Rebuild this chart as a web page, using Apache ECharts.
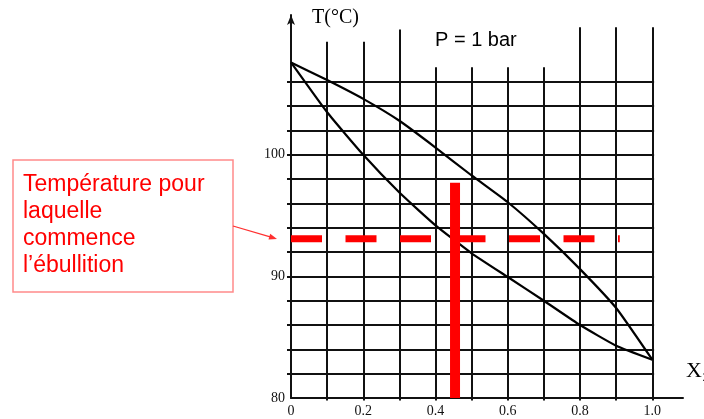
<!DOCTYPE html>
<html>
<head>
<meta charset="utf-8">
<script src="https://cdn.jsdelivr.net/npm/echarts@6/dist/echarts.min.js"></script>
<style>html,body{margin:0;padding:0;background:#fff}#c{width:704px;height:419px}</style>
</head>
<body>
<div id="c"></div>
<script>
// ---- data ----
const xFrac   = [0, 0.1, 0.2, 0.3, 0.4, 0.5, 0.6, 0.7, 0.8, 0.9, 1.0];
const vapourT = [107.6, 106.15, 104.6, 102.8, 100.6, 98.3, 96.1, 93.5, 90.6, 87.4, 83.15];
const liquidT = [107.6, 103.5, 100.0, 96.9, 94.2, 91.9, 89.95, 88.0, 86.0, 84.3, 83.15];
const xLabelVals = [0, 0.2, 0.4, 0.6, 0.8, 1.0];
const yLabelVals = [80, 90, 100];
const hGridT  = [82, 84, 86, 88, 90, 92, 94, 96, 98, 100, 102, 104, 106];
const vGridX  = [0.1, 0.2, 0.3, 0.4, 0.5, 0.6, 0.7, 0.8, 0.9, 1.0];
const vGridTop = [109.3, 109.3, 110.3, 107.2, 107.2, 107.2, 107.2, 110.5, 110.5, 110.5];
const boilT = 93.1;      // température de début d'ébullition
const dashEndX = 0.91;
const barX = 0.454;      // composition
const barTopT = 97.7;

const chart = echarts.init(document.getElementById('c'), null, {renderer: 'canvas'});

const gridLines = hGridT.map(t => ({coords: [[0, t], [1.005, t]]}))
  .concat(vGridX.map((x, i) => ({coords: [[x, 79.8], [x, vGridTop[i]]]})));

const option = {
  animation: false,
  backgroundColor: '#fff',
  grid: {left: 291, right: 21, top: 15, bottom: 21},
  xAxis: {
    type: 'value', min: 0, max: 1.085,
    axisLine: {lineStyle: {color: '#111', width: 2}},
    axisTick: {show: false},
    splitLine: {show: false},
    axisLabel: {
      customValues: xLabelVals,
      formatter: v => (v === 0 ? '0' : v.toFixed(1)),
      fontFamily: 'Liberation Serif', fontSize: 14, color: '#111', margin: 6
    }
  },
  yAxis: {
    type: 'value', min: 80, max: 111.5,
    axisLine: {show: true, symbol: ['none', 'arrow'], symbolSize: [6, 10], lineStyle: {color: '#111', width: 2}},
    axisTick: {show: true, customValues: hGridT, length: 4, lineStyle: {color: '#111', width: 2}},
    splitLine: {show: false},
    axisLabel: {
      customValues: yLabelVals,
      fontFamily: 'Liberation Serif', fontSize: 14, color: '#111', margin: 6
    }
  },
  series: [
    {
      type: 'lines', coordinateSystem: 'cartesian2d', silent: true, z: 1, clip: false,
      data: gridLines,
      lineStyle: {color: '#111', width: 2, opacity: 1}
    },
    {
      type: 'line', smooth: 0.15, symbol: 'none', silent: true, z: 3,
      data: xFrac.map((x, i) => [x, vapourT[i]]),
      lineStyle: {color: '#000', width: 2.2}
    },
    {
      type: 'line', smooth: 0.15, symbol: 'none', silent: true, z: 3,
      data: xFrac.map((x, i) => [x, liquidT[i]]),
      lineStyle: {color: '#000', width: 2.2}
    },
    {
      type: 'line', symbol: 'none', silent: true, z: 5,
      data: [[0, boilT], [dashEndX, boilT]],
      lineStyle: {color: '#ff0000', width: 7, type: [31, 23.5], cap: 'butt'}
    },
    {
      type: 'line', symbol: 'none', silent: true, z: 6,
      data: [[barX, 80], [barX, barTopT]],
      lineStyle: {color: '#ff0000', width: 10, cap: 'butt'}
    }
  ],
  graphic: [
    {type: 'text', left: 312, top: 8, style: {text: 'T(°C)', font: '20px "Liberation Serif"', fill: '#000'}},
    {type: 'text', left: 435, top: 30, style: {text: 'P = 1 bar', font: '20px "Liberation Sans"', fill: '#000'}},
    {type: 'text', left: 686, top: 360, style: {text: 'X₂', font: '22px "Liberation Serif"', fill: '#000'}},
    {type: 'rect', shape: {x: 13, y: 160, width: 220, height: 132}, style: {fill: '#fff', stroke: '#ff8a8a', lineWidth: 1.5}, z: 10},
    {type: 'text', x: 23, y: 171.5, z: 11, style: {
      text: 'Température pour\nlaquelle\ncommence\nl’ébullition',
      font: '23px "Liberation Sans"', fill: '#ff0000', lineHeight: 27, verticalAlign: 'top'}},
    {type: 'line', shape: {x1: 233, y1: 226, x2: 271, y2: 237.2}, style: {stroke: '#ff3030', lineWidth: 1.3}, z: 10},
    {type: 'polygon', shape: {points: [[277, 239], [268.5, 239.6], [270.2, 233.8]]}, style: {fill: '#ff3030'}, z: 10}
  ]
};
chart.setOption(option);
</script>
</body>
</html>
